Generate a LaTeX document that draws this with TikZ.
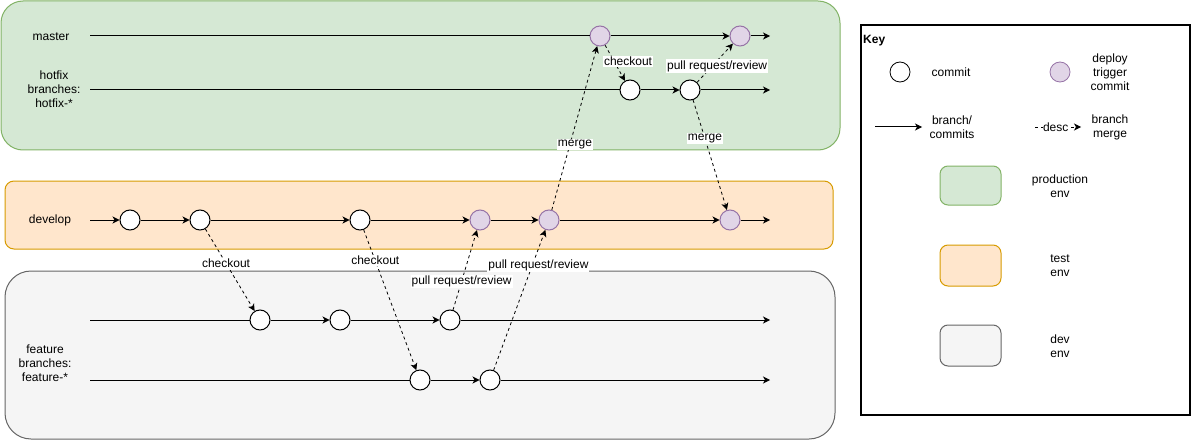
\documentclass[tikz,border=0pt]{standalone}
\usepackage{fontspec}
\setmainfont{Liberation Sans}
\usetikzlibrary{arrows.meta}
\definecolor{gfill}{HTML}{D5E8D4}\definecolor{gline}{HTML}{82B366}
\definecolor{ofill}{HTML}{FFE6CC}\definecolor{oline}{HTML}{D79B00}
\definecolor{sfill}{HTML}{F5F5F5}\definecolor{sline}{HTML}{666666}
\definecolor{pfill}{HTML}{E1D5E7}\definecolor{pline}{HTML}{9673A6}
\begin{document}
\begin{tikzpicture}[x=1pt,y=-1pt,
  font=\fontsize{12}{14}\selectfont,
  commit/.style={circle,draw=black,fill=white,minimum size=20pt,inner sep=0pt,line width=1pt},
  deploy/.style={commit,draw=pline,fill=pfill},
  branchline/.style={line width=1pt},
  arr/.style={line width=1pt,-{Stealth[length=7pt,width=7pt,inset=2pt]}},
  darr/.style={line width=0.8pt,dash pattern=on 3pt off 3pt,-{Stealth[length=7pt,width=7pt,inset=2pt]}},
  lbl/.style={fill=white,inner sep=1pt,text=black},
  txt/.style={align=center,inner sep=0pt},
  envbox/.style={line width=1pt}]
\useasboundingbox (0,0) rectangle (1191,441);
% environments
\draw[envbox,draw=gline,fill=gfill,rounded corners=22pt] (1,1) rectangle (840,150);
\draw[envbox,draw=oline,fill=ofill,rounded corners=9pt] (5,181) rectangle (833,249);
\draw[envbox,draw=sline,fill=sfill,rounded corners=26pt] (5,271) rectangle (835,439);
% row labels
\node[txt] (lmaster) at (51,37) {master};
\node[txt] (lhotfix) at (54,89) {hotfix\\branches:\\hotfix-*};
\node[txt] (ldevelop) at (50,220) {develop};
\node[txt] (lfeature) at (45,363) {feature\\branches:\\feature-*};
% start / end coordinates
\coordinate (ms) at (90,36);  \coordinate (me) at (770,36);
\coordinate (hs) at (90,90);  \coordinate (he) at (770,90);
\coordinate (ds) at (90,220); \coordinate (de) at (770,220);
\coordinate (fs) at (90,320); \coordinate (fe) at (770,320);
\coordinate (gs) at (90,380); \coordinate (ge) at (770,380);
% commits
\node[deploy] (m1) at (600,36) {};
\node[deploy] (m2) at (740,36) {};
\node[commit] (h1) at (630,90) {};
\node[commit] (h2) at (690,90) {};
\node[commit] (d1) at (130,220) {};
\node[commit] (d2) at (200,220) {};
\node[commit] (d3) at (360,220) {};
\node[deploy] (d4) at (480,220) {};
\node[deploy] (d5) at (549,220) {};
\node[deploy] (d6) at (730,220) {};
\node[commit] (f1) at (260,320) {};
\node[commit] (f2) at (340,320) {};
\node[commit] (f3) at (450,320) {};
\node[commit] (g1) at (420,380) {};
\node[commit] (g2) at (490,380) {};
% branch lines
\draw[branchline] (ms) -- (m1); \draw[arr] (m1) -- (m2); \draw[arr] (m2) -- (me);
\draw[branchline] (hs) -- (h1); \draw[arr] (h1) -- (h2); \draw[arr] (h2) -- (he);
\draw[arr] (ds) -- (d1); \draw[arr] (d1) -- (d2); \draw[arr] (d2) -- (d3);
\draw[arr] (d3) -- (d4); \draw[arr] (d4) -- (d5); \draw[arr] (d5) -- (d6); \draw[arr] (d6) -- (de);
\draw[branchline] (fs) -- (f1); \draw[arr] (f1) -- (f2); \draw[arr] (f2) -- (f3); \draw[arr] (f3) -- (fe);
\draw[branchline] (gs) -- (g1); \draw[arr] (g1) -- (g2); \draw[arr] (g2) -- (ge);
% merges / checkouts
\draw[darr] (d2) -- node[lbl,pos=0.42] {checkout} (f1);
\draw[darr] (d3) -- node[lbl,pos=0.22] {checkout} (g1);
\draw[darr] (f3) -- node[lbl,pos=0.36] {pull request/review} (d4);
\draw[darr] (g2) -- node[lbl,pos=0.75,xshift=6pt] {pull request/review} (d5);
\draw[darr] (d5) -- node[lbl,pos=0.40,xshift=5pt] {merge} (m1);
\draw[darr] (m1) -- node[lbl,pos=0.45,xshift=14pt] {checkout} (h1);
\draw[darr] (h2) -- node[lbl,pos=0.42,xshift=5pt] {pull request/review} (m2);
\draw[darr] (h2) -- node[lbl,pos=0.35] {merge} (d6);
% key
\draw[line width=1.2pt] (861,25) rectangle (1190,415);
\node[anchor=west,inner sep=0pt,font=\fontsize{12}{14}\selectfont\bfseries] (key) at (863,41) {Key};
\node[commit,line width=0.8pt] (kc) at (900,72) {};
\node[txt] (kct) at (951,72) {commit};
\node[deploy,line width=0.8pt] (kd) at (1060,72) {};
\node[txt] (kdt) at (1110,72) {deploy\\trigger\\commit};
\coordinate (ka1) at (875,127); \coordinate (ka2) at (922,127);
\draw[arr] (ka1) -- (ka2);
\node[txt] (kat) at (952,127) {branch/\\commits};
\coordinate (kb1) at (1035,127); \coordinate (kb2) at (1081,127);
\draw[darr] (kb1) -- node[lbl,pos=0.45,inner sep=0.5pt] {desc} (kb2);
\node[txt] (kbt) at (1110,127) {branch\\merge};
\draw[envbox,draw=gline,fill=gfill,rounded corners=8pt] (940,166) rectangle (1001,205);
\node[txt] (kpt) at (1060,186) {production\\env};
\draw[envbox,draw=oline,fill=ofill,rounded corners=8pt] (940,245) rectangle (1001,286);
\node[txt] (ktt) at (1060,266) {test\\env};
\draw[envbox,draw=sline,fill=sfill,rounded corners=8pt] (940,325) rectangle (1001,366);
\node[txt] (kvt) at (1060,346) {dev\\env};
\end{tikzpicture}
\end{document}
